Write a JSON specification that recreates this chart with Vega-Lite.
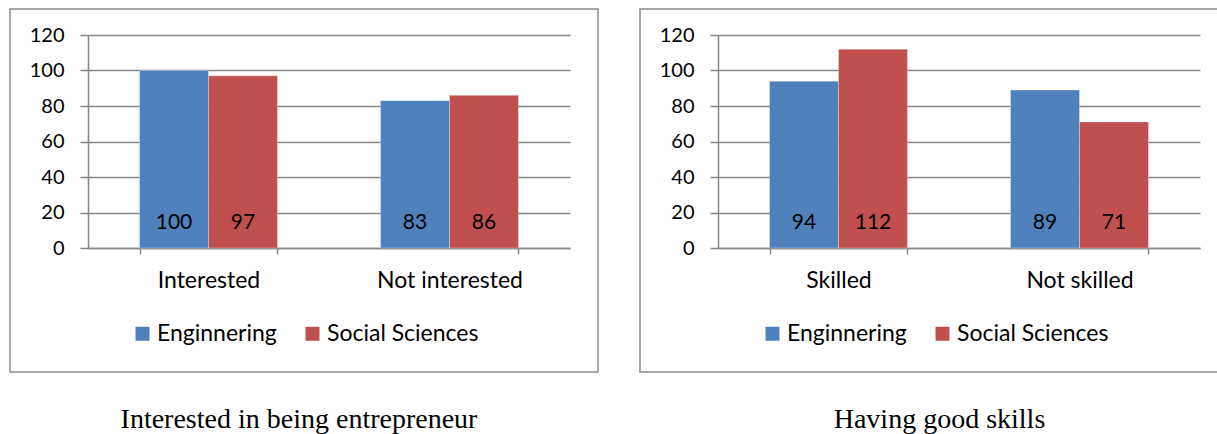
{
  "$schema": "https://vega.github.io/schema/vega-lite/v6.json",
  "background": "white",
  "padding": {"left": 9, "top": 8, "right": 0, "bottom": 0},
  "spacing": 40,
  "resolve": {"scale": {"color": "independent"}, "legend": {"color": "independent"}},
  "config": {
    "font": "Lato",
    "view": {"stroke": "#8c8c8c", "strokeWidth": 1.5},
    "axis": {
      "domainColor": "#868686", "domainWidth": 1.5,
      "tickColor": "#868686", "tickWidth": 1.5,
      "gridColor": "#868686", "gridWidth": 1.5,
      "labelColor": "black", "labelFontSize": 20, "labelFont": "Lato",
      "title": null
    },
    "title": {"font": "Liberation Serif", "fontSize": 28, "fontWeight": "normal", "color": "black"}
  },
  "hconcat": [
    {
      "width": 588, "height": 363,
      "title": {"text": "Interested in being entrepreneur", "orient": "bottom", "anchor": "middle", "offset": 34, "dx": -5},
      "data": {"values": [
        {"cat": "Interested", "group": "Enginnering", "value": 100},
        {"cat": "Interested", "group": "Social Sciences", "value": 97},
        {"cat": "Not interested", "group": "Enginnering", "value": 83},
        {"cat": "Not interested", "group": "Social Sciences", "value": 86}
      ]},
      "encoding": {
        "x": {"field": "cat", "type": "nominal", "sort": ["Interested", "Not interested"],
          "scale": {"range": [78, 560], "paddingInner": 0.4275, "paddingOuter": 0.2137},
          "axis": {"offset": -124, "labelAngle": 0, "tickSize": 6, "tickBand": "extent", "labelPadding": 15, "labelFontSize": 23, "grid": false}},
        "xOffset": {"field": "group", "type": "nominal", "sort": ["Enginnering", "Social Sciences"], "scale": {"paddingInner": 0, "paddingOuter": 0}}
      },
      "layer": [
        {
          "mark": {"type": "bar", "stroke": "white", "strokeWidth": 0.5, "strokeOpacity": 0.6},
          "encoding": {
            "y": {"field": "value", "type": "quantitative",
              "scale": {"domain": [0, 120], "range": [239, 26], "nice": false, "zero": true},
              "axis": {"offset": -78, "values": [0, 20, 40, 60, 80, 100, 120], "grid": true, "tickSize": 8, "labelPadding": 16}},
            "color": {"field": "group", "type": "nominal",
              "scale": {"domain": ["Enginnering", "Social Sciences"], "range": ["#4F81BD", "#C0504D"]},
              "legend": {"orient": "none", "legendX": 121, "legendY": 313, "direction": "horizontal", "title": null,
                "symbolType": "square", "symbolSize": 196, "symbolStrokeWidth": 0, "labelFontSize": 23, "labelColor": "black",
                "labelFont": "Lato", "columnPadding": 24, "labelOffset": 3}}
          }
        },
        {
          "mark": {"type": "text", "dy": -25, "fontSize": 21, "color": "black", "baseline": "middle", "align": "center"},
          "encoding": {
            "y": {"datum": 0},
            "text": {"field": "value", "type": "quantitative"}
          }
        }
      ]
    },
    {
      "width": 579, "height": 363,
      "title": {"text": "Having good skills", "orient": "bottom", "anchor": "middle", "offset": 34, "dx": 10},
      "data": {"values": [
        {"cat": "Skilled", "group": "Enginnering", "value": 94},
        {"cat": "Skilled", "group": "Social Sciences", "value": 112},
        {"cat": "Not skilled", "group": "Enginnering", "value": 89},
        {"cat": "Not skilled", "group": "Social Sciences", "value": 71}
      ]},
      "encoding": {
        "x": {"field": "cat", "type": "nominal", "sort": ["Skilled", "Not skilled"],
          "scale": {"range": [78, 560], "paddingInner": 0.4275, "paddingOuter": 0.2137},
          "axis": {"offset": -124, "labelAngle": 0, "tickSize": 6, "tickBand": "extent", "labelPadding": 15, "labelFontSize": 23, "grid": false}},
        "xOffset": {"field": "group", "type": "nominal", "sort": ["Enginnering", "Social Sciences"], "scale": {"paddingInner": 0, "paddingOuter": 0}}
      },
      "layer": [
        {
          "mark": {"type": "bar", "stroke": "white", "strokeWidth": 0.5, "strokeOpacity": 0.6},
          "encoding": {
            "y": {"field": "value", "type": "quantitative",
              "scale": {"domain": [0, 120], "range": [239, 26], "nice": false, "zero": true},
              "axis": {"offset": -78, "values": [0, 20, 40, 60, 80, 100, 120], "grid": true, "tickSize": 8, "labelPadding": 16}},
            "color": {"field": "group", "type": "nominal",
              "scale": {"domain": ["Enginnering", "Social Sciences"], "range": ["#4F81BD", "#C0504D"]},
              "legend": {"orient": "none", "legendX": 121, "legendY": 313, "direction": "horizontal", "title": null,
                "symbolType": "square", "symbolSize": 196, "symbolStrokeWidth": 0, "labelFontSize": 23, "labelColor": "black",
                "labelFont": "Lato", "columnPadding": 24, "labelOffset": 3}}
          }
        },
        {
          "mark": {"type": "text", "dy": -25, "fontSize": 21, "color": "black", "baseline": "middle", "align": "center"},
          "encoding": {
            "y": {"datum": 0},
            "text": {"field": "value", "type": "quantitative"}
          }
        }
      ]
    }
  ]
}
